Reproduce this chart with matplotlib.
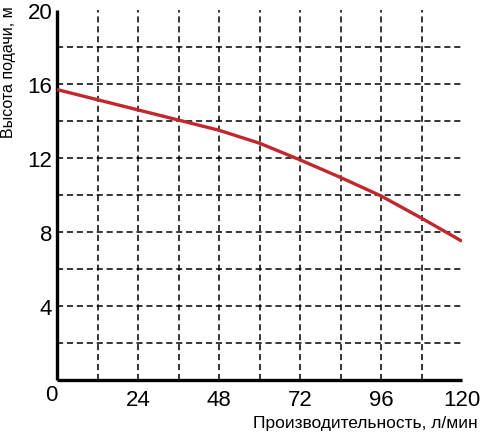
import numpy as np
import matplotlib.pyplot as plt

# flow (x) and head (y)
flow = [0, 12, 24, 36, 48, 60, 72, 84, 96, 108, 120]
head = [15.7, 15.15, 14.6, 14.05, 13.5, 12.8, 11.9, 10.95, 9.95, 8.75, 7.5]

x_ticks = [24, 48, 72, 96, 120]
y_ticks = [4, 8, 12, 16, 20]

plt.rcParams['font.family'] = ['Liberation Sans', 'DejaVu Sans']

fig = plt.figure(figsize=(4.85, 4.35), dpi=100)
ax = fig.add_axes([57/485, 54/435, 405/485, 370/435])

##grid
for gx in range(12, 120, 12):
    ax.axvline(gx, color='black', lw=1.1, ls=(0, (4, 2.5)), zorder=1)
for gy in range(2, 20, 2):
    ax.axhline(gy, color='black', lw=1.1, ls=(0, (4, 2.5)), zorder=1)

##curve
ax.plot(flow, head, color='#c1272d', lw=2.4, solid_capstyle='butt', zorder=3)

ax.set_xlim(0, 120)
ax.set_ylim(0, 20)
ax.set_xticks(x_ticks)
ax.set_yticks(y_ticks)
ax.tick_params(length=0, labelsize=16)
ax.tick_params(axis='x', pad=6.5)
ax.tick_params(axis='y', pad=3.5)

for s in ['top', 'right']:
    ax.spines[s].set_visible(False)
for s in ['left', 'bottom']:
    ax.spines[s].set_linewidth(2.4)
    ax.spines[s].set_capstyle('butt')

ax.text(0.1, -0.2, '0', fontsize=16, ha='right', va='top')

fig.text(9/485, (435-138)/435, 'Высота подачи, м', rotation=90,
         ha='center', va='bottom', fontsize=11.5)
fig.text(253/485, (435-424)/435, 'Производительность, л/мин',
         ha='left', va='center', fontsize=12.5)

fig.savefig('out.png', dpi=100)
